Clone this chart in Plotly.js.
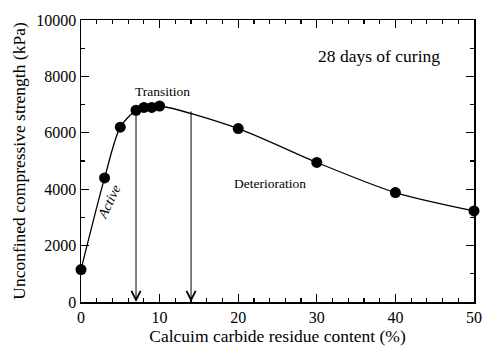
<!DOCTYPE html>
<html><head><meta charset="utf-8">
<script src="https://cdn.plot.ly/plotly-3.0.1.min.js"></script>
<style>html,body{margin:0;padding:0;background:#fff}#c{width:486px;height:350px}</style>
</head><body><div id="c"></div>
<script>
const crContent = [0, 3, 5, 7, 8, 9, 10, 20, 30, 40, 50];
const strength = [1150, 4400, 6200, 6800, 6900, 6900, 6950, 6150, 4950, 3880, 3230];
const arrowX = [7, 14];
const arrowTop = [6800, 6810];
const labels = ["28 days of curing", "Transition", "Deterioration", "Active"];
const labelX = [37.9, 10.4, 24, 3.6];
const labelY = [8725, 7480, 4220, 3560];

const fam = "Liberation Serif";
const f = s => ({family: fam, color: "#000", size: s});
const annotations = arrowX.map((x, i) => ({
  x: x, y: 0, ax: x, ay: arrowTop[i], xref: "x", yref: "y", axref: "x", ayref: "y",
  showarrow: true, arrowhead: 5, arrowsize: 1.8, arrowwidth: 1, arrowcolor: "#000", text: ""
}));
annotations.push({x: labelX[0], y: labelY[0], text: labels[0], showarrow: false, font: f(17.5)});
annotations.push({x: labelX[1], y: labelY[1], text: labels[1], showarrow: false, font: f(13.5)});
annotations.push({x: labelX[2], y: labelY[2], text: labels[2], showarrow: false, font: f(13.5)});
annotations.push({x: labelX[3], y: labelY[3], text: "<i>" + labels[3] + "</i>", textangle: -64, showarrow: false, font: f(14)});

const trace = {
  x: crContent, y: strength, mode: "lines+markers", type: "scatter",
  line: {color: "#000", width: 1.3, shape: "spline", smoothing: 0.8},
  marker: {color: "#000", size: 11}, cliponaxis: false
};
const axisCommon = {
  showgrid: false, zeroline: false, showline: true, mirror: "allticks", linecolor: "#000", linewidth: 1.5,
  ticks: "inside", tickcolor: "#000", tickwidth: 1.2, ticklen: 8, tickformat: "d",
  tickfont: f(16)
};
const layout = {
  width: 486, height: 350, margin: {l: 81, r: 12, t: 20, b: 48},
  font: f(16),
  paper_bgcolor: "#fff", plot_bgcolor: "#fff", showlegend: false,
  xaxis: Object.assign({}, axisCommon, {range: [0, 50], dtick: 10, tick0: 0,
    minor: {ticks: "inside", ticklen: 4, tickcolor: "#000", tickwidth: 1.2, dtick: 2},
    title: {text: "Calcuim carbide residue content (%)", font: f(17.5), standoff: 4}}),
  yaxis: Object.assign({}, axisCommon, {range: [0, 10000], dtick: 2000, tick0: 0,
    minor: {ticks: "inside", ticklen: 4, tickcolor: "#000", tickwidth: 1.2, dtick: 1000},
    title: {text: "Unconfined compressive strength (kPa)", font: f(17.5), standoff: 6}}),
  annotations: annotations
};
Plotly.newPlot("c", [trace], layout, {displayModeBar: false, staticPlot: true});
</script></body></html>
